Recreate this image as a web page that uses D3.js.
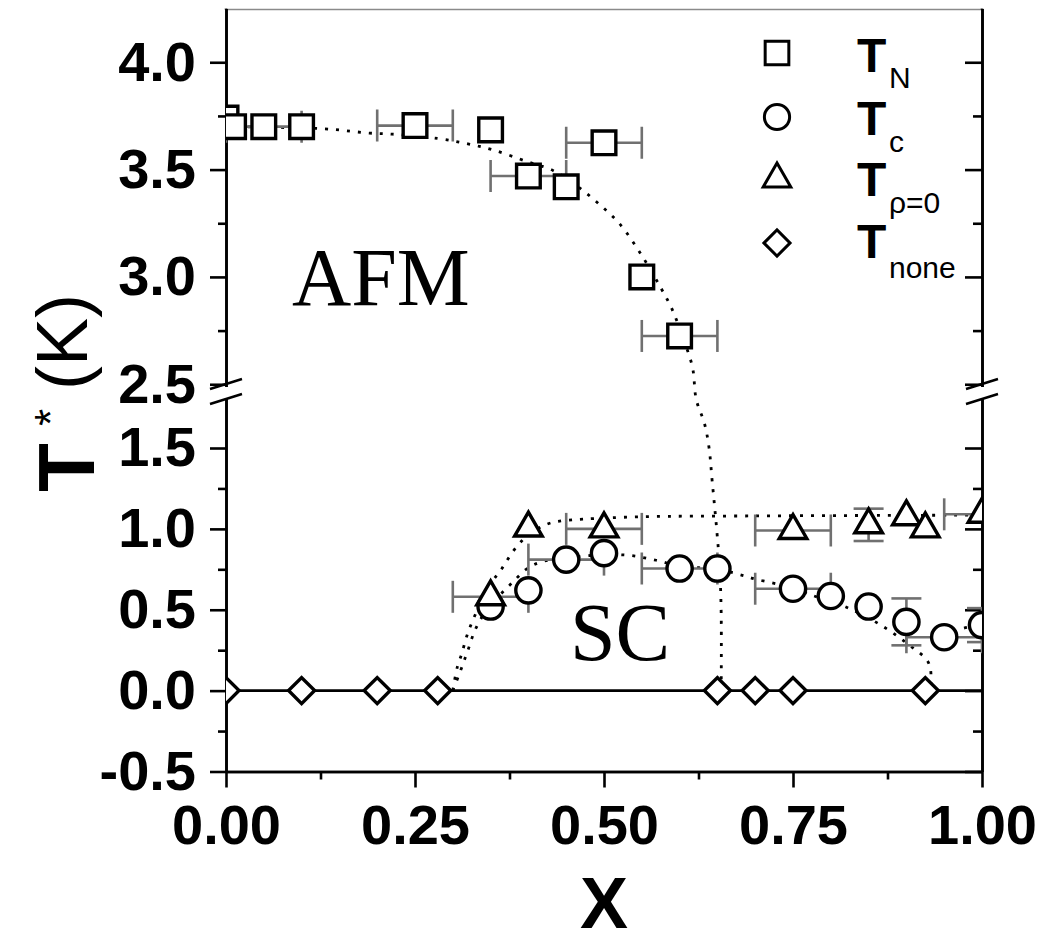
<!DOCTYPE html>
<html>
<head>
<meta charset="utf-8">
<script src="https://cdn.jsdelivr.net/npm/d3@7"></script>
<style>
  html, body { margin: 0; padding: 0; background: #fff; }
  svg { display: block; }
</style>
</head>
<body>
<svg id="chart" width="1045" height="945"></svg>
<script>
// ---------------- DATA ----------------
// T_N (squares)
const tnX    = [0.00, 0.01, 0.05, 0.10, 0.25, 0.35, 0.40, 0.45, 0.50, 0.55, 0.60];
const tnY    = [3.74, 3.70, 3.70, 3.70, 3.705, 3.685, 3.47, 3.42, 3.625, 3.00, 2.725];
const tnXErr = [0, 0, 0.05, 0, 0.05, 0, 0.05, 0, 0.05, 0, 0.05];
const tnYErr = [0, 0, 0, 0, 0, 0, 0, 0, 0, 0, 0];

// T_c (circles)
const tcX    = [0.35, 0.40, 0.45, 0.50, 0.60, 0.65, 0.75, 0.80, 0.85, 0.90, 0.95, 1.00];
const tcY    = [0.52, 0.62, 0.81, 0.85, 0.755, 0.755, 0.63, 0.585, 0.52, 0.425, 0.33, 0.405];
const tcXErr = [0, 0, 0.05, 0, 0.05, 0, 0.05, 0, 0, 0, 0.05, 0];
const tcYErr = [0, 0, 0, 0, 0, 0, 0, 0, 0, 0.145, 0, 0.105];

// T_rho=0 (triangles)
const trX    = [0.35, 0.40, 0.50, 0.75, 0.85, 0.90, 0.925, 1.00];
const trY    = [0.58, 1.005, 1.00, 0.99, 1.025, 1.075, 1.00, 1.09];
const trXErr = [0.05, 0, 0.05, 0.05, 0, 0, 0, 0.05];
const trYErr = [0, 0, 0, 0, 0.10, 0, 0, 0];

// T_none (diamonds)
const dmX = [0.00, 0.10, 0.20, 0.28, 0.65, 0.70, 0.75, 0.925];
const dmY = [0, 0, 0, 0, 0, 0, 0, 0];

// dotted guide curves
const tnFitX = [0, 0.13, 0.19, 0.22, 0.28, 0.32, 0.355, 0.40, 0.43, 0.46, 0.49, 0.52, 0.55, 0.575, 0.59, 0.604, 0.617, 0.622, 0.633, 0.639, 0.643, 0.649, 0.653, 0.655, 0.655];
const tnFitY = [3.70, 3.69, 3.67, 3.665, 3.645, 3.62, 3.59, 3.535, 3.50, 3.435, 3.35, 3.25, 3.10, 2.95, 2.85, 2.72, 2.58, 1.80, 1.65, 1.50, 1.30, 1.00, 0.76, 0.48, 0.0];

const trFitX = [0.300, 0.306, 0.312, 0.318, 0.326, 0.339, 0.353, 0.365, 0.378, 0.392, 0.402, 0.425, 0.445, 0.472, 0.55, 0.70, 0.85, 1.00];
const trFitY = [0.0, 0.146, 0.23, 0.33, 0.43, 0.56, 0.68, 0.755, 0.85, 0.93, 0.97, 1.03, 1.05, 1.06, 1.075, 1.08, 1.083, 1.085];

const tcFitX = [0.30, 0.31, 0.32, 0.33, 0.345, 0.36, 0.377, 0.40, 0.42, 0.45, 0.50, 0.534, 0.569, 0.60, 0.65, 0.683, 0.70, 0.75, 0.775, 0.82, 0.868, 0.907, 0.927, 0.932, 0.932];
const tcFitY = [0.0, 0.12, 0.25, 0.38, 0.50, 0.58, 0.66, 0.76, 0.80, 0.82, 0.84, 0.836, 0.806, 0.77, 0.75, 0.713, 0.69, 0.635, 0.59, 0.517, 0.40, 0.27, 0.19, 0.127, 0.0];

const tcFit2X = [0.95, 0.975, 1.00];
const tcFit2Y = [0.33, 0.385, 0.405];

// ticks
const xMajorTicks = [0, 0.25, 0.5, 0.75, 1.0];
const xMinorTicks = [0.125, 0.375, 0.625, 0.875];
const yUpperMajor = [2.5, 3.0, 3.5, 4.0];
const yUpperMinor = [2.75, 3.25, 3.75];
const yLowerMajor = [-0.5, 0.0, 0.5, 1.0, 1.5];
const yLowerMinor = [-0.25, 0.25, 0.75, 1.25];

const legendLabels = [
  {main: "T", sub: "N"},
  {main: "T", sub: "c"},
  {main: "T", sub: "ρ=0"},
  {main: "T", sub: "none"}
];

// ---------------- LAYOUT ----------------
const svg = d3.select("#chart");
const L = 226, R = 982, TOP = 9.5, BOT = 771.5;

const x = d3.scaleLinear().domain([0, 1]).range([L, R]);
const yU = d3.scaleLinear().domain([2.49, 4.25]).range([386.4, 8.6]);
const yL = d3.scaleLinear().domain([-0.5, 1.81]).range([BOT, BOT - 2.31 * 161.75]);
const y = v => (v >= 2.2 ? yU(v) : yL(v));

const ERR = "#707070";
const sans = "'Liberation Sans', Arial, Helvetica, sans-serif";
const serif = "'Liberation Serif', 'Times New Roman', serif";
const fmt1 = v => d3.format(".1f")(v).replace("−", "-");

// clip
svg.append("defs").append("clipPath").attr("id", "plotclip")
  .append("rect").attr("x", L).attr("y", TOP).attr("width", R - L).attr("height", BOT - TOP);

// ---------------- AXES ----------------
function styleAxis(g) {
  g.selectAll("path.domain").attr("stroke", "#000").attr("stroke-width", 2.6);
  g.selectAll(".tick line").attr("stroke", "#000").attr("stroke-width", 2.6);
  g.selectAll(".tick text").attr("fill", "#000")
    .style("font-family", sans).style("font-weight", "bold").style("font-size", "56px");
}

// top border
svg.append("line").attr("x1", L).attr("x2", R).attr("y1", TOP).attr("y2", TOP)
  .attr("stroke", "#8a8a8a").attr("stroke-width", 1.6);

// bottom axis
const xMaj = svg.append("g").attr("transform", `translate(0,${BOT})`)
  .call(d3.axisBottom(x).tickValues(xMajorTicks).tickSize(16).tickSizeOuter(0).tickPadding(17)
    .tickFormat(d3.format(".2f")));
styleAxis(xMaj);
const xMin = svg.append("g").attr("transform", `translate(0,${BOT})`)
  .call(d3.axisBottom(x).tickValues(xMinorTicks).tickSize(8).tickSizeOuter(0).tickFormat(""));
styleAxis(xMin);

// left axes (upper / lower)
function leftAxis(scale, major, minor) {
  const g1 = svg.append("g").attr("transform", `translate(${L},0)`)
    .call(d3.axisLeft(scale).tickValues(major).tickSize(16).tickSizeOuter(0).tickPadding(14)
      .tickFormat(fmt1));
  styleAxis(g1);
  const g2 = svg.append("g").attr("transform", `translate(${L},0)`)
    .call(d3.axisLeft(scale).tickValues(minor).tickSize(8).tickSizeOuter(0).tickFormat(""));
  styleAxis(g2);
}
leftAxis(yU, yUpperMajor, yUpperMinor);
leftAxis(yL, yLowerMajor, yLowerMinor);

// right axes (ticks inward, no labels)
function rightAxis(scale, major, minor) {
  const g1 = svg.append("g").attr("transform", `translate(${R},0)`)
    .call(d3.axisLeft(scale).tickValues(major).tickSize(17).tickSizeOuter(0).tickFormat(""));
  styleAxis(g1);
  const g2 = svg.append("g").attr("transform", `translate(${R},0)`)
    .call(d3.axisLeft(scale).tickValues(minor).tickSize(9).tickSizeOuter(0).tickFormat(""));
  styleAxis(g2);
}
rightAxis(yU, yUpperMajor, yUpperMinor);
rightAxis(yL, yLowerMajor, yLowerMinor);

// extend top of left/right axis to top border
svg.append("line").attr("x1", L).attr("x2", L).attr("y1", TOP).attr("y2", yU.range()[1]).attr("stroke", "#000").attr("stroke-width", 2.6);
svg.append("line").attr("x1", R).attr("x2", R).attr("y1", TOP).attr("y2", yU.range()[1]).attr("stroke", "#000").attr("stroke-width", 2.6);

// axis break marks
[L, R].forEach(ax => {
  [384, 399].forEach(cy => {
    svg.append("line").attr("x1", ax - 16).attr("y1", cy + 5).attr("x2", ax + 16).attr("y2", cy - 5)
      .attr("stroke", "#000").attr("stroke-width", 2.4);
  });
});

// ---------------- PLOT ----------------
const plot = svg.append("g").attr("clip-path", "url(#plotclip)");

// zero line
plot.append("line").attr("x1", x(0)).attr("x2", x(1)).attr("y1", y(0)).attr("y2", y(0))
  .attr("stroke", "#000").attr("stroke-width", 2.6);

// dotted guide curves
const lineGen = d3.line().x(d => x(d[0])).y(d => y(d[1])).curve(d3.curveCatmullRom.alpha(0.5));
function dotted(xs, ys) {
  plot.append("path").datum(xs.map((v, i) => [v, ys[i]]))
    .attr("d", lineGen).attr("fill", "none").attr("stroke", "#000")
    .attr("stroke-width", 2.8).attr("stroke-dasharray", "3,8");
}
dotted(tnFitX, tnFitY);
dotted(trFitX, trFitY);
dotted(tcFitX, tcFitY);
dotted(tcFit2X, tcFit2Y);

// error bars
function errorBars(xs, ys, xe, ye) {
  const g = plot.append("g").attr("stroke", ERR).attr("stroke-width", 2.6).attr("fill", "none");
  xs.forEach((xv, i) => {
    const cx = x(xv), cy = y(ys[i]);
    if (xe[i] > 0) {
      const x1 = x(xv - xe[i]), x2 = x(xv + xe[i]);
      g.append("line").attr("x1", x1).attr("x2", x2).attr("y1", cy).attr("y2", cy);
      g.append("line").attr("x1", x1).attr("x2", x1).attr("y1", cy - 16).attr("y2", cy + 16);
      g.append("line").attr("x1", x2).attr("x2", x2).attr("y1", cy - 16).attr("y2", cy + 16);
    }
    if (ye[i] > 0) {
      const y1 = y(ys[i] + ye[i]), y2 = y(ys[i] - ye[i]);
      g.append("line").attr("x1", cx).attr("x2", cx).attr("y1", y1).attr("y2", y2);
      g.append("line").attr("x1", cx - 15).attr("x2", cx + 15).attr("y1", y1).attr("y2", y1);
      g.append("line").attr("x1", cx - 15).attr("x2", cx + 15).attr("y1", y2).attr("y2", y2);
    }
  });
}
errorBars(tnX, tnY, tnXErr, tnYErr);
errorBars(tcX, tcY, tcXErr, tcYErr);
errorBars(trX, trY, trXErr, trYErr);

// markers
const symSquare = d3.symbol().type(d3.symbolSquare).size(560);
const symCircle = d3.symbol().type(d3.symbolCircle).size(500);
const symTri = d3.symbol().type(d3.symbolTriangle).size(330);
const symDiamond = d3.symbol().type(d3.symbolSquare).size(340);

function markers(xs, ys, gen, rot) {
  plot.append("g").selectAll("path").data(xs.map((v, i) => [v, ys[i]])).join("path")
    .attr("d", gen)
    .attr("transform", d => `translate(${x(d[0])},${y(d[1])})` + (rot ? ` rotate(${rot})` : ""))
    .attr("fill", "#fff").attr("stroke", "#000").attr("stroke-width", 3.4);
}
markers(dmX, dmY, symDiamond, 45);
markers(tnX, tnY, symSquare);
markers(tcX, tcY, symCircle);
markers(trX, trY, symTri);

// region labels
svg.append("text").attr("x", 292).attr("y", 305).text("AFM")
  .style("font-family", serif).style("font-size", "82px").attr("fill", "#000");
svg.append("text").attr("x", 570).attr("y", 660).text("SC")
  .style("font-family", serif).style("font-size", "82px").attr("fill", "#000");

// ---------------- LEGEND ----------------
const legSyms = [[symSquare, 0], [symCircle, 0], [symTri, 0], [symDiamond, 45]];
const legSymY = [53, 117, 179, 243];
const legTY = [72, 135, 196, 258];
const legSubY = [88, 152, 213, 278];
legendLabels.forEach((lab, i) => {
  svg.append("path").attr("d", legSyms[i][0])
    .attr("transform", `translate(777,${legSymY[i]})` + (legSyms[i][1] ? ` rotate(45)` : ""))
    .attr("fill", "#fff").attr("stroke", "#000").attr("stroke-width", 3);
  svg.append("text").attr("x", 857).attr("y", legTY[i]).text(lab.main)
    .style("font-family", sans).style("font-size", "48px").style("font-weight", "bold");
  svg.append("text").attr("x", 889).attr("y", legSubY[i]).text(lab.sub)
    .style("font-family", sans).style("font-size", "30px");
});

// ---------------- AXIS TITLES ----------------
svg.append("text").attr("x", (L + R) / 2).attr("y", 928).attr("text-anchor", "middle").text("X")
  .style("font-family", sans).style("font-size", "72px").style("font-weight", "bold");

svg.append("text").attr("transform", "translate(94,492) rotate(-90)").text("T")
  .style("font-family", sans).style("font-size", "80px").style("font-weight", "bold");
svg.append("text").attr("transform", "translate(66,426) rotate(-90)").text("*")
  .style("font-family", sans).style("font-size", "44px");
svg.append("text").attr("transform", "translate(87,390) rotate(-90)").text("(K)")
  .style("font-family", sans).style("font-size", "72px");
</script>
</body>
</html>
